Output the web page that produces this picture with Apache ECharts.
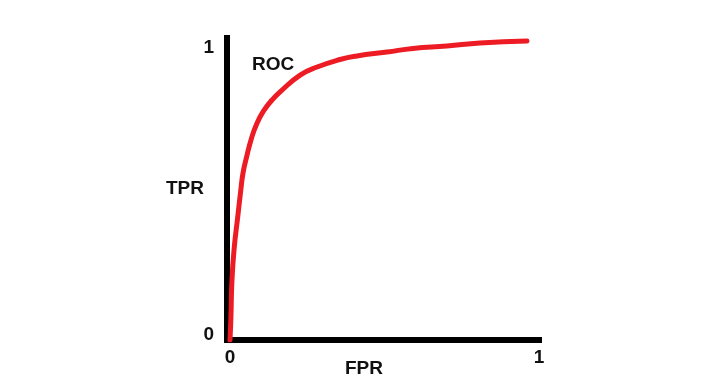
<!DOCTYPE html>
<html>
<head>
<meta charset="utf-8">
<script src="https://cdn.jsdelivr.net/npm/echarts@6/dist/echarts.min.js"></script>
<style>
html,body{margin:0;padding:0;background:#fff;}
#c{width:710px;height:389px;}
</style>
</head>
<body>
<div id="c"></div>
<script>
// ROC curve points
const fpr = [0, 0.003, 0.006, 0.013, 0.025, 0.035, 0.042, 0.054, 0.068, 0.087, 0.111, 0.136, 0.163, 0.227, 0.282, 0.356, 0.411, 0.508, 0.592, 0.702, 0.809, 0.961];
const tpr = [0, 0.077, 0.19, 0.30, 0.41, 0.50, 0.556, 0.611, 0.667, 0.722, 0.767, 0.80, 0.828, 0.883, 0.91, 0.935, 0.947, 0.96, 0.972, 0.98, 0.99, 0.997];
const xTicks = [0, 1];
const yTicks = [0, 1];
const xName = 'FPR';
const yName = 'TPR';
const curveName = 'ROC';

const font = '"Liberation Sans", Arial, sans-serif';
const chart = echarts.init(document.getElementById('c'), null, {renderer: 'canvas'});
const yLabelPos = [0.0167, 0.973]; // label anchor values (labels sit slightly inside the ends)
chart.setOption({
  animation: false,
  backgroundColor: '#fff',
  grid: {left: 227, right: 171, top: 38, bottom: 49},
  xAxis: {
    type: 'value', min: -0.0097, max: 1,
    splitLine: {show: false},
    axisTick: {show: false},
    axisLine: {onZero: false, lineStyle: {color: '#000', width: 6, cap: 'square'}},
    axisLabel: {
      customValues: xTicks, margin: 8,
      color: '#111', fontSize: 19, fontWeight: 'bold', fontFamily: font,
      formatter: v => String(Math.round(v))
    }
  },
  yAxis: {
    type: 'value', min: 0, max: 1.0067,
    splitLine: {show: false},
    axisTick: {show: false},
    axisLine: {onZero: false, lineStyle: {color: '#000', width: 6, cap: 'square'}},
    axisLabel: {
      customValues: yLabelPos, margin: 13,
      color: '#111', fontSize: 19, fontWeight: 'bold', fontFamily: font,
      formatter: v => String(yTicks[Math.round(v)])
    }
  },
  graphic: [
    {type: 'text', left: 252, top: 55, style: {text: curveName, fill: '#111', font: 'bold 19px ' + font}},
    {type: 'text', left: 166, top: 179, style: {text: yName, fill: '#111', font: 'bold 19px ' + font}},
    {type: 'text', left: 345, top: 359, style: {text: xName, fill: '#111', font: 'bold 19px ' + font}}
  ],
  series: [{
    type: 'line',
    data: fpr.map((x, i) => [x, tpr[i]]),
    smooth: 0.5,
    showSymbol: false,
    lineStyle: {color: '#ed1c24', width: 5, cap: 'round', join: 'round'}
  }]
});
</script>
</body>
</html>
